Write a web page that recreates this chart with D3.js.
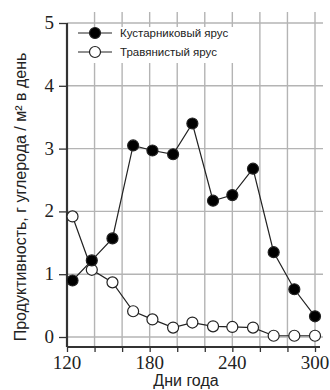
<!DOCTYPE html>
<html>
<head>
<meta charset="utf-8">
<script src="https://cdn.jsdelivr.net/npm/d3@7"></script>
<style>
  body { margin: 0; background: #fff; }
  .grid line { stroke: #b4b4b4; stroke-width: 1.4; }
  .tick-label { font-family: "Liberation Serif", serif; font-size: 19px; fill: #222; }
  .axis-title { font-family: "Liberation Sans", Arial, sans-serif; font-size: 16px; fill: #222; }
  .legend text { font-family: "Liberation Sans", Arial, sans-serif; font-size: 11.5px; fill: #222; }
</style>
</head>
<body>
<div class="container"></div>
<script>
const WIDTH = 330;
const HEIGHT = 390;

// days of year for the samples
var days = [124, 138, 153, 168, 182, 197, 211, 226, 240, 255, 270, 285, 300];
var shrub = [0.90, 1.22, 1.57, 3.05, 2.97, 2.91, 3.40, 2.17, 2.26, 2.68, 1.35, 0.76, 0.33];
var grass = [1.92, 1.07, 0.87, 0.41, 0.28, 0.15, 0.23, 0.17, 0.16, 0.15, 0.02, 0.02, 0.02];

var xTicks = [120, 180, 240, 300];
var xGrid = [120, 140, 160, 180, 200, 220, 240, 260, 280, 300];
var yTicks = [0, 1, 2, 3, 4, 5];
var seriesNames = ['Кустарниковый ярус', 'Травянистый ярус'];

var translate = function (x, y) {
  return 'translate(' + x + ',' + y + ')';
};

var svg = d3.select('.container').append('svg')
  .attr('width', WIDTH)
  .attr('height', HEIGHT);

var xScale = d3.scaleLinear().domain([120, 300]).range([67, 315]);
var yScale = d3.scaleLinear().domain([0, 5]).range([337, 23]);
var axisY = yScale(0) + 10;

// grid
var grid = svg.append('g').classed('grid', true);
grid.selectAll('line.v')
  .data(xGrid.slice(1))
  .enter().append('line')
  .attr('x1', function (d) { return xScale(d); })
  .attr('x2', function (d) { return xScale(d); })
  .attr('y1', 12)
  .attr('y2', axisY);
grid.selectAll('line.h')
  .data(yTicks)
  .enter().append('line')
  .attr('x1', xScale(120))
  .attr('x2', 323)
  .attr('y1', function (d) { return yScale(d); })
  .attr('y2', function (d) { return yScale(d); });

// legend background hides the grid
svg.append('rect')
  .attr('x', 69).attr('y', 27)
  .attr('width', 182).attr('height', 36)
  .attr('fill', '#fff');

// left axis
var yAxis = d3.axisLeft(yScale).tickValues(yTicks).tickSize(8).tickFormat('');
var gy = svg.append('g').attr('transform', translate(xScale(120), 0)).call(yAxis);
gy.select('.domain').remove();
gy.selectAll('.tick line').attr('stroke', '#333').attr('stroke-width', 1.3);
svg.append('line')
  .attr('x1', xScale(120)).attr('x2', xScale(120))
  .attr('y1', yScale(5)).attr('y2', axisY)
  .attr('stroke', '#333').attr('stroke-width', 2.2);
svg.selectAll('text.ylab')
  .data(yTicks)
  .enter().append('text')
  .classed('tick-label', true)
  .attr('x', 54)
  .attr('y', function (d) { return yScale(d) + 6; })
  .attr('text-anchor', 'end')
  .text(function (d) { return d; });

// bottom axis
var xAxis = d3.axisBottom(xScale).tickValues(xGrid).tickSize(5).tickFormat('');
var gx = svg.append('g').attr('transform', translate(0, axisY)).call(xAxis);
gx.select('.domain').remove();
gx.selectAll('.tick line').attr('stroke', '#333').attr('stroke-width', 1.3);
svg.append('line')
  .attr('x1', xScale(120)).attr('x2', 320)
  .attr('y1', axisY).attr('y2', axisY)
  .attr('stroke', '#333').attr('stroke-width', 2);
svg.selectAll('text.xlab')
  .data(xTicks)
  .enter().append('text')
  .classed('tick-label', true)
  .attr('x', function (d) { return xScale(d); })
  .attr('y', 369)
  .attr('text-anchor', 'middle')
  .text(function (d) { return d; });

svg.append('text')
  .classed('axis-title', true)
  .attr('x', 186).attr('y', 386)
  .attr('text-anchor', 'middle')
  .text('Дни года');

svg.append('text')
  .classed('axis-title', true)
  .attr('transform', translate(26, 197) + ' rotate(-90)')
  .attr('text-anchor', 'middle')
  .text('Продуктивность, г углерода / м² в день');

// series
var line = d3.line()
  .x(function (d, i) { return xScale(days[i]); })
  .y(function (d) { return yScale(d); });

var drawSeries = function (values, fill) {
  svg.append('path')
    .attr('d', line(values))
    .attr('fill', 'none')
    .attr('stroke', '#222')
    .attr('stroke-width', 1.2);
  svg.selectAll(null)
    .data(values)
    .enter().append('circle')
    .attr('cx', function (d, i) { return xScale(days[i]); })
    .attr('cy', function (d) { return yScale(d); })
    .attr('r', 5.5)
    .attr('fill', fill)
    .attr('stroke', '#222')
    .attr('stroke-width', 1.2);
};

drawSeries(grass, '#fff');
drawSeries(shrub, '#000');

// legend
var legend = svg.append('g').classed('legend', true);
seriesNames.forEach(function (name, i) {
  var y = 33 + i * 19;
  legend.append('line')
    .attr('x1', 78).attr('x2', 112)
    .attr('y1', y).attr('y2', y)
    .attr('stroke', '#222').attr('stroke-width', 1.2);
  legend.append('circle')
    .attr('cx', 95).attr('cy', y).attr('r', 5.5)
    .attr('fill', i === 0 ? '#000' : '#fff')
    .attr('stroke', '#222').attr('stroke-width', 1.2);
  legend.append('text')
    .attr('x', 120).attr('y', y + 4)
    .text(name);
});
</script>
</body>
</html>
